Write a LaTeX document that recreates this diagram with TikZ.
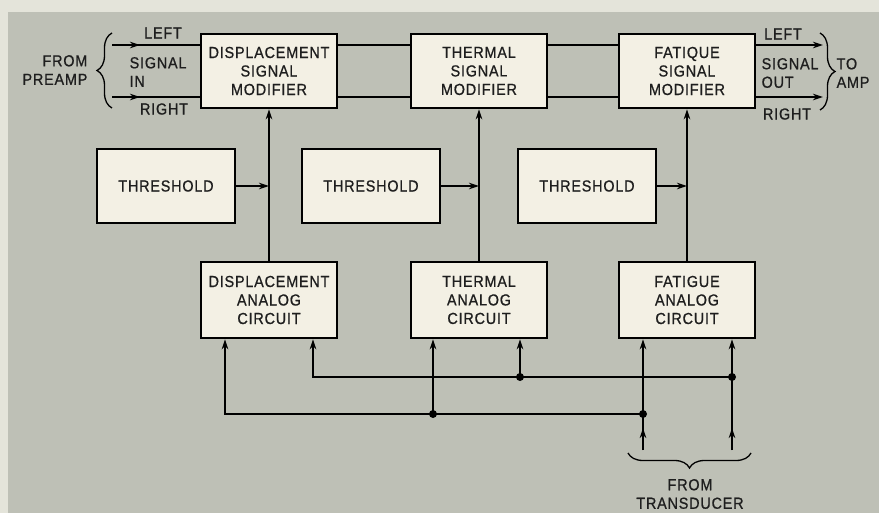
\documentclass[tikz,border=0pt]{standalone}
\usepackage{fontspec}
\setmainfont{Liberation Sans}[LetterSpace=5, FakeStretch=0.9, FakeBold=0.8]
\usetikzlibrary{arrows.meta,positioning,decorations.pathreplacing}
\definecolor{bggray}{RGB}{190,192,182}
\definecolor{paper}{RGB}{228,228,218}
\definecolor{boxfill}{RGB}{243,240,228}
\definecolor{ink}{RGB}{30,30,30}

\begin{document}
\begin{tikzpicture}[x=1pt, y=-1pt, font=\fontsize{16}{18.5}\selectfont, line width=1.3pt,
    >={Stealth[length=10pt,width=6.5pt]}, text=ink]
  \useasboundingbox (0,0) rectangle (879,513);
  \fill[paper] (0,0) rectangle (879,513);
  \fill[bggray] (8,12) rectangle (879,513);
  \tikzset{blk/.style={draw, line width=2.6pt, fill=boxfill, align=center, inner sep=0pt,
      minimum width=136pt, minimum height=74pt},
    lbl/.style={inner sep=0pt, align=left},
    brc/.style={decorate, decoration={brace, amplitude=15pt}},
    jdot/.style={circle, fill, inner sep=0pt, minimum size=8pt}}
  % three channels: signal modifier, threshold, analog circuit
  \foreach \k/\x/\tx/\nm/\an in {d/269/166/DISPLACEMENT/DISPLACEMENT, t/479/371/THERMAL/THERMAL,
    f/687/587/FATIQUE/FATIGUE} {
    \node[blk] (\k sm) at (\x,71) {\nm\\SIGNAL\\MODIFIER};
    \node[blk, minimum width=138pt] (\k th) at (\tx,186) {THRESHOLD};
    \node[blk, minimum height=76pt] (\k an) at (\x,300) {\an\\ANALOG\\CIRCUIT};
    \draw[->] (\k an) -- (\k sm);
    \draw[->] (\k th) -- (\k th -| \k sm);
  }
  \foreach \a/\b in {dsm/tsm, tsm/fsm}
    \foreach \s in {26,-26}
      \draw ([yshift=\s pt]\a.east) -- ([yshift=\s pt]\b.west);

  \coordinate (inL) at (112,45);
  \coordinate (inR) at (112,97);
  \coordinate (outL) at (823,45);
  \coordinate (outR) at (823,97);
  \draw (inL) -- ([yshift=26pt]dsm.west);
  \draw (inR) -- ([yshift=-26pt]dsm.west);
  \draw[->] (inL) -- ++(28,0);
  \draw[->] (inR) -- ++(28,0);
  \draw[->] ([yshift=26pt]fsm.east) -- (outL);
  \draw[->] ([yshift=-26pt]fsm.east) -- (outR);

  \draw[brc] (112,108) -- (112,33);
  \draw[brc] (820,33) -- (820,110);
  \draw[brc] (751,453) -- (628,453);

  \node[lbl, align=right, anchor=east] (frompre) at (88,70) {FROM\\PREAMP};
  \node[lbl] (inleft) at (163,33) {LEFT};
  \node[lbl, anchor=west] (sigin) at (129,72) {SIGNAL\\IN};
  \node[lbl] (inright) at (164,109) {RIGHT};
  \node[lbl] (outleft) at (783,34) {LEFT};
  \node[lbl, anchor=west] (sigout) at (761,73) {SIGNAL\\OUT};
  \node[lbl] (outright) at (787,114) {RIGHT};
  \node[lbl, anchor=west] (toamp) at (836,73) {TO\\AMP};
  \node[lbl, align=center] (fromtr) at (690,494) {FROM\\TRANSDUCER};

  % analog inputs and the two transducer buses
  \foreach \b/\n/\dx in {dan/1/-44, dan/2/44, tan/1/-46, tan/2/41, fan/1/-44, fan/2/45}
    \coordinate (\b\n) at ([xshift=\dx pt]\b.south);
  \coordinate (upbus) at (0,377);
  \coordinate (lobus) at (0,414);
  \coordinate (src1) at (fan1 |- 0,450);
  \coordinate (src2) at (fan2 |- 0,450);
  \coordinate (jt1) at (tan1 |- lobus);
  \coordinate (jf1) at (fan1 |- lobus);
  \coordinate (jt2) at (tan2 |- upbus);
  \coordinate (jf2) at (fan2 |- upbus);
  \draw[->] (src1) -- ++(0,-22);
  \draw[->] (src2) -- ++(0,-22);
  \draw[->] (src1) -- (fan1);
  \draw[->] (src2) -- (fan2);
  \draw[->] (jf1) -| (dan1);
  \draw[->] (jf2) -| (dan2);
  \draw[->] (jt1) -- (tan1);
  \draw[->] (jt2) -- (tan2);
  \foreach \j in {jt1, jf1, jt2, jf2}
    \node[jdot] (\j dot) at (\j) {};
\end{tikzpicture}
\end{document}
